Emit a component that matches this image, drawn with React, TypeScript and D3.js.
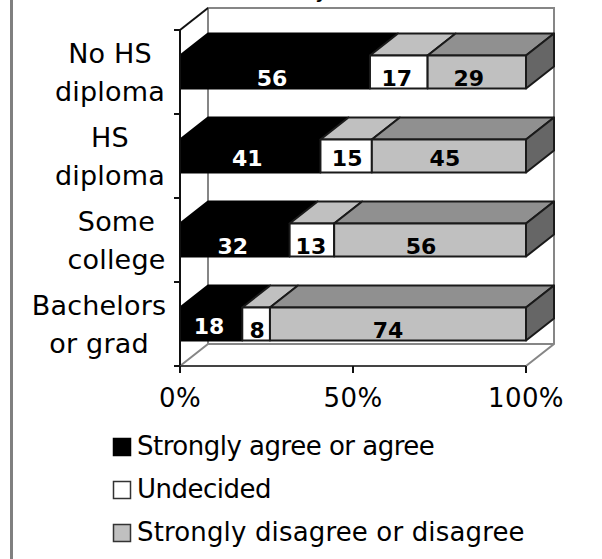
import React from 'react'
import * as d3 from 'd3'

const categories = ['No HS diploma', 'HS diploma', 'Some college', 'Bachelors or grad']
const categoryLines = [['No HS', 'diploma'], ['HS', 'diploma'], ['Some', 'college'], ['Bachelors', 'or grad']]
const agree = [56, 41, 32, 18]
const undecided = [17, 15, 13, 8]
const disagree = [29, 45, 56, 74]
const xTicks = [0, 50, 100]
const seriesNames = ['Strongly agree or agree', 'Undecided', 'Strongly disagree or disagree']

const width = 602
const height = 559
const depthX = 28
const depthY = -22
const font = '"DejaVu Sans", sans-serif'

// front colour, top colour
const seriesStyle = [
  { front: '#000000', top: '#000000' },
  { front: '#ffffff', top: '#c0c0c0' },
  { front: '#c0c0c0', top: '#909090' },
]

// excel puts the value labels a bit off centre
const labelNudge = [
  [[-3, 14], [-3, 10], [-2, 14], [-2, 10]],
  [[-2, 14], [1, 10], [-1, 14], [1, 14]],
  [[-8, 14], [-4, 10], [-9, 14], [-10, 14]],
]
// the two lines of a category label are centred on each other
const labelCentres = [110, 110, 116.5, 99]
const legendSpacing = [-0.5, -0.5, 0.15]

const x = d3.scaleLinear().domain([0, 100]).range([180, 526])
const y = d3.scaleBand().domain(categories).range([30, 366]).paddingInner(0.607).paddingOuter(0.3035)
const legendY = d3.scalePoint<number>().domain([0, 1, 2]).range([446, 532])
const line = d3.line()

const App: React.FC = () => {
  const rows = categories.map((c, i) => {
    const vals = [agree[i], undecided[i], disagree[i]]
    const total = d3.sum(vals)
    let cum = 0
    const segs = vals.map(v => {
      const x0 = x((cum / total) * 100)
      cum += v
      return { v, x0, x1: x((cum / total) * 100) }
    })
    return { c, segs, top: y(c) as number, bottom: (y(c) as number) + y.bandwidth() }
  })

  return (
    <svg width={width} height={height} style={{ position: 'absolute', left: 0, top: 0 }}>
      <rect x={0} y={0} width={width} height={height} fill="#fff" />
      <rect x={10} y={0} width={3} height={height} fill="#808080" />
      <text x={322} y={-3} fontFamily={font} fontSize={24} textAnchor="middle">y</text>

      {/* back wall */}
      <path
        d={line([[x(0) + depthX, 344], [x(0) + depthX, 8], [x(100) + depthX, 8], [x(100) + depthX, 344], [x(100), 366]]) as string}
        fill="none" stroke="#868686" strokeWidth={2}
      />
      <path d={line([[x(0), 366], [x(0) + depthX, 344], [x(100) + depthX, 344]]) as string} fill="none" stroke="#868686" strokeWidth={2} />
      <path d={line([[x(0), 30], [x(0) + depthX, 8]]) as string} fill="none" stroke="#111" strokeWidth={2} />

      {/* bars */}
      {rows.map((r, i) => (
        <g key={r.c}>
          {r.segs.map((s, j) => (
            <g key={j} stroke={j === 0 ? '#000' : '#1a1a1a'} strokeWidth={2} strokeLinejoin="round">
              <path
                d={line([[s.x0, r.top], [s.x0 + depthX, r.top + depthY], [s.x1 + depthX, r.top + depthY], [s.x1, r.top]]) + 'Z'}
                fill={seriesStyle[j].top}
              />
              <rect x={s.x0} y={r.top} width={s.x1 - s.x0} height={r.bottom - r.top} fill={seriesStyle[j].front} />
            </g>
          ))}
          <path
            d={line([[x(100), r.top], [x(100) + depthX, r.top + depthY], [x(100) + depthX, r.bottom + depthY], [x(100), r.bottom]]) + 'Z'}
            fill="#666666" stroke="#1a1a1a" strokeWidth={2} strokeLinejoin="round"
          />
          {r.segs.map((s, j) => (
            <text
              key={j}
              x={(s.x0 + s.x1) / 2 + labelNudge[j][i][0]}
              y={(r.top + r.bottom) / 2 + labelNudge[j][i][1]}
              textAnchor="middle"
              fontFamily={font}
              fontWeight="bold"
              fontSize={22}
              fill={j === 0 ? '#fff' : '#000'}
            >
              {s.v}
            </text>
          ))}
        </g>
      ))}

      {/* axes */}
      <path d={line([[x(0), 30], [x(0), 373]]) as string} stroke="#111" strokeWidth={2} fill="none" />
      <path d={line([[x(0), 366], [x(100), 366]]) as string} stroke="#444" strokeWidth={2} fill="none" />
      {[...categories.map(c => (y(c) as number) - y.step() * 0.3035), 366].map((t, i) => (
        <line key={i} x1={174} x2={180} y1={t} y2={t} stroke="#111" strokeWidth={2} />
      ))}
      {xTicks.map(t => (
        <g key={t}>
          <line x1={x(t)} x2={x(t)} y1={366} y2={373} stroke="#111" strokeWidth={2} />
          <text x={x(t)} y={407} textAnchor="middle" fontFamily={font} fontSize={26} letterSpacing={0.4} fill="#000">{t}%</text>
        </g>
      ))}

      {/* category labels */}
      {categories.map((c, i) => {
        const mid = (y(c) as number) + y.bandwidth() / 2
        return (
          <g key={c} fontFamily={font} fontSize={27} letterSpacing={0.2} fill="#000" textAnchor="middle">
            <text x={labelCentres[i]} y={mid - 9}>{categoryLines[i][0]}</text>
            <text x={labelCentres[i]} y={mid + 28.5}>{categoryLines[i][1]}</text>
          </g>
        )
      })}

      {/* legend */}
      {seriesNames.map((s, i) => {
        const ly = legendY(i) as number
        return (
          <g key={s}>
            <rect x={113.5} y={ly - 7.5} width={17} height={17} fill={seriesStyle[i].front} stroke={i === 0 ? '#000' : '#333'} strokeWidth={1.5} />
            <text x={137} y={ly + 9} fontFamily={font} fontSize={26} letterSpacing={legendSpacing[i]} fill="#000">{s}</text>
          </g>
        )
      })}
    </svg>
  )
}

export default App
